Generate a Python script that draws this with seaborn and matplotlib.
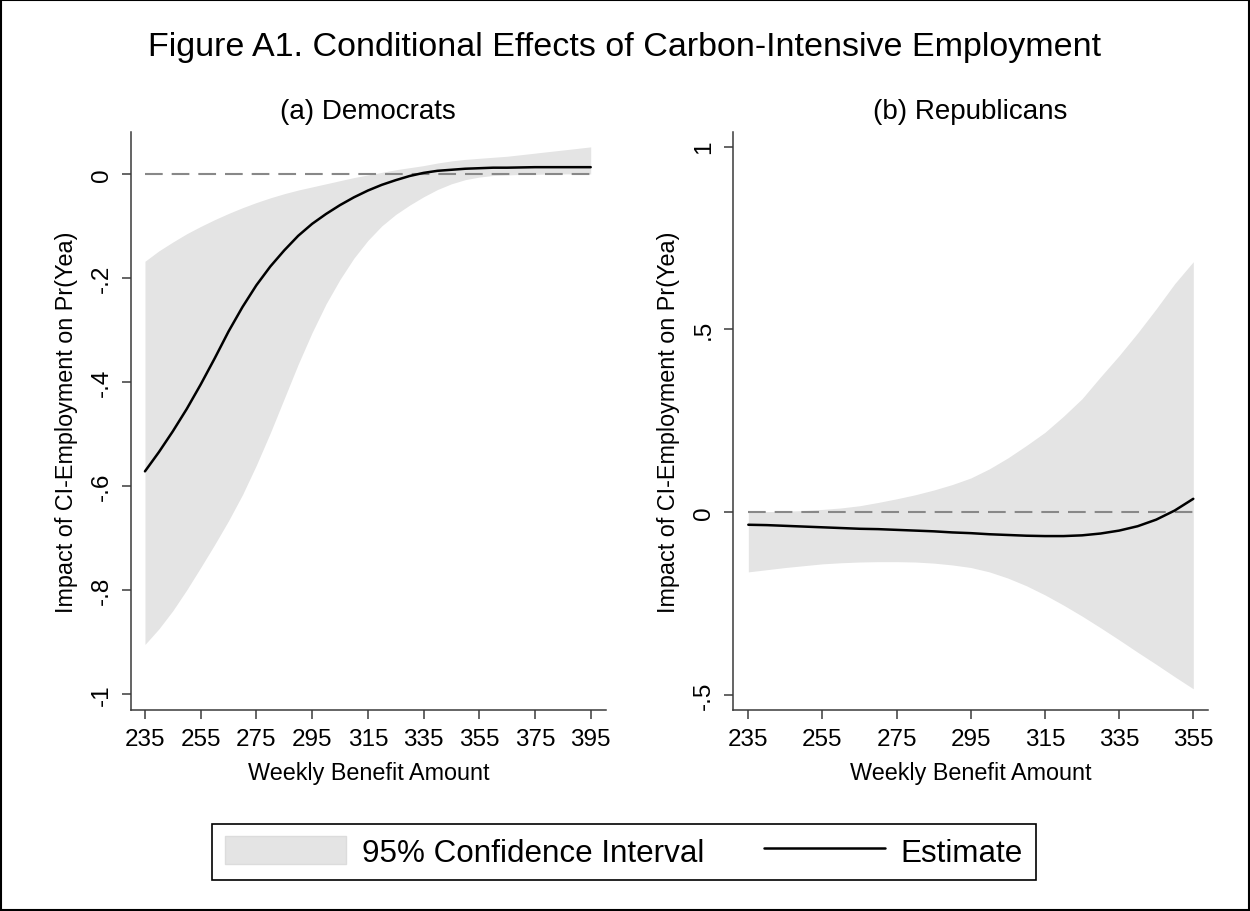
import matplotlib
matplotlib.use("Agg")
import matplotlib.pyplot as plt
import seaborn as sns
import pandas as pd
from matplotlib.patches import Patch, Rectangle
from matplotlib.lines import Line2D

# Democrats panel: weekly benefit grid, estimate and 95% CI
dem_benefit = [235, 240, 245, 250, 255, 260, 265, 270, 275, 280, 285, 290, 295, 300, 305, 310, 315,
               320, 325, 330, 335, 340, 345, 350, 355, 360, 365, 370, 375, 380, 385, 390, 395]
dem_est = [-0.572, -0.535, -0.495, -0.452, -0.405, -0.355, -0.303, -0.256, -0.214, -0.178, -0.147,
           -0.119, -0.096, -0.077, -0.060, -0.045, -0.032, -0.021, -0.012, -0.004, 0.002, 0.006,
           0.008, 0.010, 0.011, 0.012, 0.012, 0.0125, 0.013, 0.013, 0.013, 0.013, 0.013]
dem_hi = [-0.168, -0.148, -0.131, -0.115, -0.101, -0.088, -0.076, -0.065, -0.055, -0.046, -0.038,
          -0.031, -0.025, -0.019, -0.013, -0.007, -0.002, 0.003, 0.008, 0.012, 0.016, 0.021,
          0.025, 0.028, 0.030, 0.032, 0.034, 0.037, 0.040, 0.043, 0.046, 0.049, 0.052]
dem_lo = [-0.905, -0.875, -0.840, -0.800, -0.757, -0.713, -0.667, -0.617, -0.560, -0.498, -0.432,
          -0.366, -0.305, -0.250, -0.203, -0.162, -0.128, -0.100, -0.078, -0.060, -0.044, -0.030,
          -0.019, -0.011, -0.006, -0.003, -0.002, -0.001, -0.001, 0.000, 0.000, 0.000, 0.000]

# Republicans panel
rep_benefit = [235, 240, 245, 250, 255, 260, 265, 270, 275, 280, 285, 290, 295, 300, 305, 310, 315,
               320, 325, 330, 335, 340, 345, 350, 355]
rep_est = [-0.035, -0.036, -0.038, -0.040, -0.042, -0.044, -0.046, -0.047, -0.049, -0.051, -0.053,
           -0.056, -0.058, -0.061, -0.063, -0.065, -0.066, -0.066, -0.064, -0.059, -0.051, -0.039,
           -0.021, 0.004, 0.036]
rep_hi = [0.000, 0.001, 0.002, 0.004, 0.007, 0.011, 0.017, 0.026, 0.036, 0.047, 0.060, 0.075,
          0.093, 0.118, 0.148, 0.182, 0.218, 0.262, 0.310, 0.370, 0.428, 0.490, 0.556, 0.625, 0.685]
rep_lo = [-0.164, -0.158, -0.152, -0.147, -0.142, -0.139, -0.137, -0.136, -0.136, -0.137, -0.140,
          -0.145, -0.152, -0.164, -0.181, -0.202, -0.227, -0.255, -0.285, -0.317, -0.350, -0.384,
          -0.417, -0.451, -0.484]

dem_xticks = [235, 255, 275, 295, 315, 335, 355, 375, 395]
dem_yticks = [0, -0.2, -0.4, -0.6, -0.8, -1]
dem_ylabels = ["0", "-.2", "-.4", "-.6", "-.8", "-1"]
rep_xticks = [235, 255, 275, 295, 315, 335, 355]
rep_yticks = [1, 0.5, 0, -0.5]
rep_ylabels = ["1", ".5", "0", "-.5"]

sns.set_theme(style="ticks")
plt.rcParams["font.family"] = ["Liberation Sans", "DejaVu Sans"]
plt.rcParams["text.color"] = "black"
plt.rcParams["axes.labelcolor"] = "black"
plt.rcParams["xtick.labelcolor"] = "black"
plt.rcParams["ytick.labelcolor"] = "black"

ci_color = "#e4e4e4"
spine_color = "#3a3a3a"
tick_size = 17.5
label_size = 16.8

fig = plt.figure(figsize=(12.5, 9.12), dpi=100)
ax1 = fig.add_axes([0.1046, 0.2204, 0.38, 0.6334])
ax2 = fig.add_axes([0.5862, 0.2204, 0.38, 0.6334])

panels = [
    (ax1, dem_benefit, dem_est, dem_lo, dem_hi, dem_xticks, dem_yticks, dem_ylabels,
     (229.9, 400.4), (-1.031, 0.080), "(a) Democrats"),
    (ax2, rep_benefit, rep_est, rep_lo, rep_hi, rep_xticks, rep_yticks, rep_ylabels,
     (230.8, 358.9), (-0.542, 1.039), "(b) Republicans"),
]

for ax, xb, est, lo, hi, xt, yt, yl, xlim, ylim, title in panels:
    df = pd.DataFrame({"benefit": xb, "est": est, "lo": lo, "hi": hi})
    ax.fill_between(df["benefit"], df["lo"], df["hi"], color=ci_color, lw=0, zorder=1)
    ax.hlines(0, df["benefit"].min(), df["benefit"].max(), colors="#888888",
              linestyles=(0, (8.5, 4.3)), lw=1.5, zorder=2)
    sns.lineplot(data=df, x="benefit", y="est", ax=ax, color="black", lw=1.8, zorder=3)
    ax.set_xlim(*xlim)
    ax.set_ylim(*ylim)
    ax.set_xticks(xt)
    ax.set_xticklabels([str(v) for v in xt])
    ax.set_yticks(yt)
    ax.set_yticklabels(yl, rotation=90, va="center")
    ax.tick_params(axis="both", labelsize=tick_size, length=6.5, width=1.1,
                   color=spine_color, pad=6.5, direction="out")
    for s in ["top", "right"]:
        ax.spines[s].set_visible(False)
    for s in ["left", "bottom"]:
        ax.spines[s].set_color(spine_color)
        ax.spines[s].set_linewidth(1.1)
    ax.set_xlabel("Weekly Benefit Amount", fontsize=label_size, labelpad=8)
    ax.set_ylabel("Impact of CI-Employment on Pr(Yea)", fontsize=label_size, labelpad=9)
    ax.text(0.5, 1.037, title, transform=ax.transAxes, ha="center", va="center", fontsize=20)

fig.text(0.5, 1 - 48 / 912, "Figure A1. Conditional Effects of Carbon-Intensive Employment",
         ha="center", va="center", fontsize=24.5)

handles = [Patch(facecolor=ci_color, edgecolor="#dcdcdc", lw=1),
           Line2D([], [], color="black", lw=1.8)]
leg = fig.legend(handles, ["95% Confidence Interval", "Estimate"], loc="center",
                 bbox_to_anchor=(0.4992, 0.0647), ncol=2, fontsize=22.6, frameon=True,
                 fancybox=False, edgecolor="black", framealpha=1, handlelength=3.86,
                 handleheight=1.0, handletextpad=0.5, columnspacing=1.9, borderpad=0.4)
leg.get_frame().set_linewidth(1.2)

fig.patches.append(Rectangle((0.001, 0.001), 0.998, 0.998, transform=fig.transFigure,
                             fill=False, edgecolor="black", lw=1.5))

fig.savefig("out.png", dpi=100)
